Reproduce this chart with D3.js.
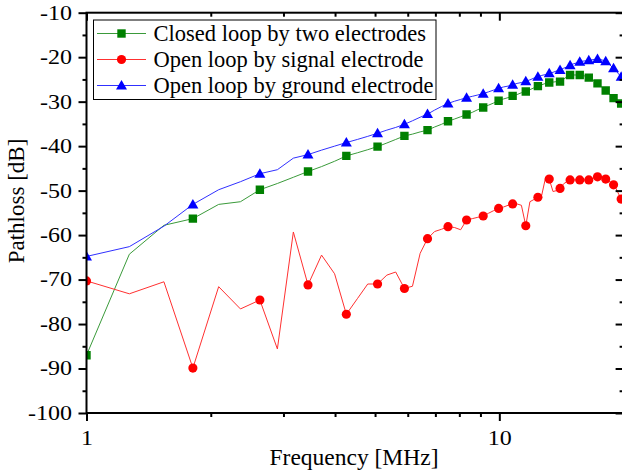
<!DOCTYPE html>
<html>
<head>
<meta charset="utf-8">
<script src="https://cdn.jsdelivr.net/npm/d3@7"></script>
<style>
body { margin: 0; background: #fff; }
svg { display: block; }
</style>
</head>
<body>
<svg id="chart" width="622" height="475"></svg>
<script>
// frequency sweep in MHz (every point of the measurement)
var freqs = [1.00, 1.27, 1.54, 1.81, 2.09, 2.36, 2.63, 2.90, 3.17, 3.44,
	3.71, 3.99, 4.26, 4.53, 4.80, 5.07, 5.34, 5.61, 5.89, 6.16,
	6.43, 6.70, 6.97, 7.24, 7.51, 7.79, 8.06, 8.33, 8.60, 8.87,
	9.14, 9.41, 9.69, 9.96, 10.23, 10.50, 10.77, 11.04, 11.31, 11.59,
	11.86, 12.13, 12.40, 12.67, 12.94, 13.21, 13.49, 13.76, 14.03, 14.30,
	14.57, 14.84, 15.11, 15.39, 15.66, 15.93, 16.20, 16.47, 16.74, 17.01,
	17.29, 17.56, 17.83, 18.10, 18.37, 18.64, 18.91, 19.19, 19.46, 19.73, 20.00];

var closedLoop = [-87.0, -64.3, -57.8, -56.3, -53.1, -52.5, -49.8, -48.4, -47.0, -45.7,
	-44.6, -43.4, -42.2, -41.5, -40.8, -40.1, -39.3, -38.5, -37.7, -37.3,
	-36.8, -36.4, -35.7, -35.1, -34.4, -33.9, -33.4, -32.9, -32.4, -31.8,
	-31.3, -30.8, -30.3, -29.8, -29.4, -29.1, -28.7, -28.4, -28.0, -27.7,
	-27.3, -26.9, -26.5, -26.2, -25.9, -25.7, -25.6, -25.5, -25.5, -25.0,
	-24.4, -24.0, -24.0, -24.0, -24.0, -24.1, -24.3, -24.6, -25.0, -25.4,
	-25.9, -26.4, -27.0, -27.5, -28.1, -28.6, -29.2, -29.6, -30.0, -30.4, -30.8];

var openSignal = [-70.3, -73.2, -70.5, -89.9, -71.6, -76.6, -74.6, -85.6, -59.3, -71.2,
	-64.5, -68.7, -77.8, -74.3, -71.0, -71.0, -69.0, -68.3, -72.0, -71.5,
	-64.1, -60.8, -59.2, -58.7, -58.1, -58.3, -58.8, -56.6, -56.3, -56.0,
	-55.7, -55.1, -54.5, -54.0, -53.7, -53.3, -53.0, -53.0, -53.3, -57.9,
	-52.5, -52.0, -51.5, -51.0, -47.1, -47.4, -50.2, -50.0, -49.5, -48.5,
	-48.0, -47.6, -47.6, -47.6, -47.6, -47.6, -47.6, -47.6, -47.3, -47.1,
	-46.9, -47.0, -47.2, -47.4, -47.8, -48.2, -48.7, -49.6, -50.8, -51.9, -53.0];

var openGround = [-64.8, -62.6, -58.0, -53.1, -49.8, -48.0, -46.2, -45.3, -42.7, -41.9,
	-40.9, -40.0, -39.2, -38.5, -37.8, -37.1, -36.4, -35.8, -35.1, -34.3,
	-33.5, -32.8, -31.9, -31.1, -30.4, -29.9, -29.5, -29.1, -28.8, -28.5,
	-28.2, -27.8, -27.4, -27.0, -26.7, -26.5, -26.2, -25.9, -25.7, -25.4,
	-25.1, -24.7, -24.4, -24.1, -23.9, -23.6, -23.4, -23.1, -22.9, -22.5,
	-22.2, -21.8, -21.5, -21.3, -21.0, -20.9, -20.8, -20.7, -20.6, -20.5,
	-20.4, -20.5, -20.7, -20.9, -21.4, -22.0, -22.5, -23.1, -23.8, -24.4, -25.0];

var seriesNames = ["Closed loop by two electrodes", "Open loop by signal electrode", "Open loop by ground electrode"];
var xTicks = [1, 2, 3, 4, 5, 6, 7, 8, 9, 10, 20];
var xLabelled = [1, 10];
var yMajor = [-100, -90, -80, -70, -60, -50, -40, -30, -20, -10];
var yMinor = [-95, -85, -75, -65, -55, -45, -35, -25, -15];

var margin = {left: 86.5, top: 12.7, right: 623.6, bottom: 413};
var font = "'Liberation Serif', 'Times New Roman', serif";
var stretch = 1.2; // tick numbers are drawn wider than they are tall

var svg = d3.select("#chart");

var x = d3.scaleLog().domain([1, 20]).range([margin.left, margin.right]);
var y = d3.scaleLinear().domain([-100, -10]).range([margin.bottom, margin.top]);

svg.append("defs").append("clipPath").attr("id", "plotclip")
	.append("rect")
	.attr("x", margin.left).attr("y", margin.top)
	.attr("width", margin.right - margin.left)
	.attr("height", margin.bottom - margin.top);

var series = [
	{name: seriesNames[0], vals: closedLoop, color: "#008000", line: "#3a9a3a", shape: "square"},
	{name: seriesNames[1], vals: openSignal, color: "#ff0000", line: "#ff3030", shape: "circle"},
	{name: seriesNames[2], vals: openGround, color: "#0000ff", line: "#3030ff", shape: "triangle"}
];

function markerPath(shape) {
	if (shape == "square") return "M-4.2,-4.2H4.2V4.2H-4.2Z";
	if (shape == "circle") return d3.symbol(d3.symbolCircle, 66)();
	return "M0,-5.5L5.5,4L-5.5,4Z";
}

var plot = svg.append("g").attr("clip-path", "url(#plotclip)");

series.forEach(function(s) {
	var pts = freqs.map(function(f, i) { return [f, s.vals[i]]; });
	plot.append("path")
		.datum(pts)
		.attr("fill", "none")
		.attr("stroke", s.line)
		.attr("stroke-width", 1)
		.attr("d", d3.line()
			.x(function(d) { return x(d[0]); })
			.y(function(d) { return y(d[1]); }));

	plot.selectAll(".m-" + s.shape)
		.data(pts.filter(function(d, i) { return i % 3 == 0; }))
		.enter()
		.append("path")
		.attr("class", "m-" + s.shape)
		.attr("transform", function(d) { return "translate(" + x(d[0]) + "," + y(d[1]) + ")"; })
		.attr("d", markerPath(s.shape))
		.attr("fill", s.color);
});

// axes
var bottomAxis = d3.axisBottom(x)
	.tickValues(xTicks)
	.tickSize(0)
	.tickFormat(function(d) { return xLabelled.indexOf(d) >= 0 ? d : ""; });

var gx = svg.append("g")
	.attr("transform", "translate(0," + margin.bottom + ")")
	.call(bottomAxis);
gx.select(".domain").remove();
gx.selectAll(".tick line")
	.attr("y2", function(d) { return xLabelled.indexOf(d) >= 0 ? 8 : 4; })
	.attr("stroke", "#000").attr("stroke-width", 2);
gx.selectAll(".tick text")
	.attr("y", 32).attr("dy", 0)
	.attr("transform", "scale(" + stretch + ",1)")
	.style("font-family", font).style("font-size", "20px").attr("fill", "#000");

var gxTop = svg.append("g")
	.attr("transform", "translate(0," + margin.top + ")")
	.call(d3.axisBottom(x).tickValues(xTicks).tickSize(0).tickFormat(""));
gxTop.select(".domain").remove();
gxTop.selectAll(".tick line")
	.attr("y2", function(d) { return xLabelled.indexOf(d) >= 0 ? 8 : 4; })
	.attr("stroke", "#000").attr("stroke-width", 2);

var gy = svg.append("g")
	.attr("transform", "translate(" + margin.left + ",0)")
	.call(d3.axisLeft(y).tickValues(yMajor).tickSize(8).tickFormat(function(d) { return String(d); }));
gy.select(".domain").remove();
gy.selectAll(".tick line").attr("stroke", "#000").attr("stroke-width", 2);
gy.selectAll(".tick text")
	.attr("x", -14.5 / stretch)
	.attr("transform", "scale(" + stretch + ",1)")
	.style("font-family", font).style("font-size", "20px").attr("fill", "#000");

svg.append("g")
	.attr("transform", "translate(" + margin.left + ",0)")
	.call(d3.axisLeft(y).tickValues(yMinor).tickSize(4).tickFormat(""))
	.call(function(g) { g.select(".domain").remove(); })
	.selectAll(".tick line").attr("stroke", "#000").attr("stroke-width", 2);

svg.append("g")
	.attr("transform", "translate(" + margin.right + ",0)")
	.call(d3.axisLeft(y).tickValues(yMajor).tickSize(0).tickFormat(""))
	.call(function(g) { g.select(".domain").remove(); })
	.selectAll(".tick line").attr("x2", -8)
	.attr("stroke", "#000").attr("stroke-width", 2);

svg.append("g")
	.attr("transform", "translate(" + margin.right + ",0)")
	.call(d3.axisLeft(y).tickValues(yMinor).tickSize(0).tickFormat(""))
	.call(function(g) { g.select(".domain").remove(); })
	.selectAll(".tick line").attr("x2", -4)
	.attr("stroke", "#000").attr("stroke-width", 2);

// frame
svg.append("rect")
	.attr("x", margin.left).attr("y", margin.top)
	.attr("width", margin.right - margin.left)
	.attr("height", margin.bottom - margin.top)
	.attr("fill", "none").attr("stroke", "#000").attr("stroke-width", 2);

// titles
svg.append("text")
	.attr("x", 354).attr("y", 465)
	.attr("text-anchor", "middle")
	.style("font-family", font).style("font-size", "23.5px")
	.text("Frequency [MHz]");

svg.append("text")
	.attr("transform", "translate(24,201) rotate(-90)")
	.attr("text-anchor", "middle")
	.style("font-family", font).style("font-size", "23px")
	.text("Pathloss [dB]");

// legend
var legend = svg.append("g").attr("transform", "translate(93.5,20)");
legend.append("rect")
	.attr("width", 342.5).attr("height", 79.5)
	.attr("fill", "#fff").attr("stroke", "#000").attr("stroke-width", 1);

series.forEach(function(s, i) {
	var row = legend.append("g").attr("transform", "translate(0," + (13.5 + i * 26) + ")");
	row.append("line")
		.attr("x1", 3.5).attr("x2", 52.5)
		.attr("stroke", s.line).attr("stroke-width", 1);
	row.append("path")
		.attr("transform", "translate(28,0)")
		.attr("d", markerPath(s.shape))
		.attr("fill", s.color);
	row.append("text")
		.attr("x", 60).attr("y", 7.5)
		.style("font-family", font).style("font-size", "22.5px")
		.text(s.name);
});
</script>
</body>
</html>
